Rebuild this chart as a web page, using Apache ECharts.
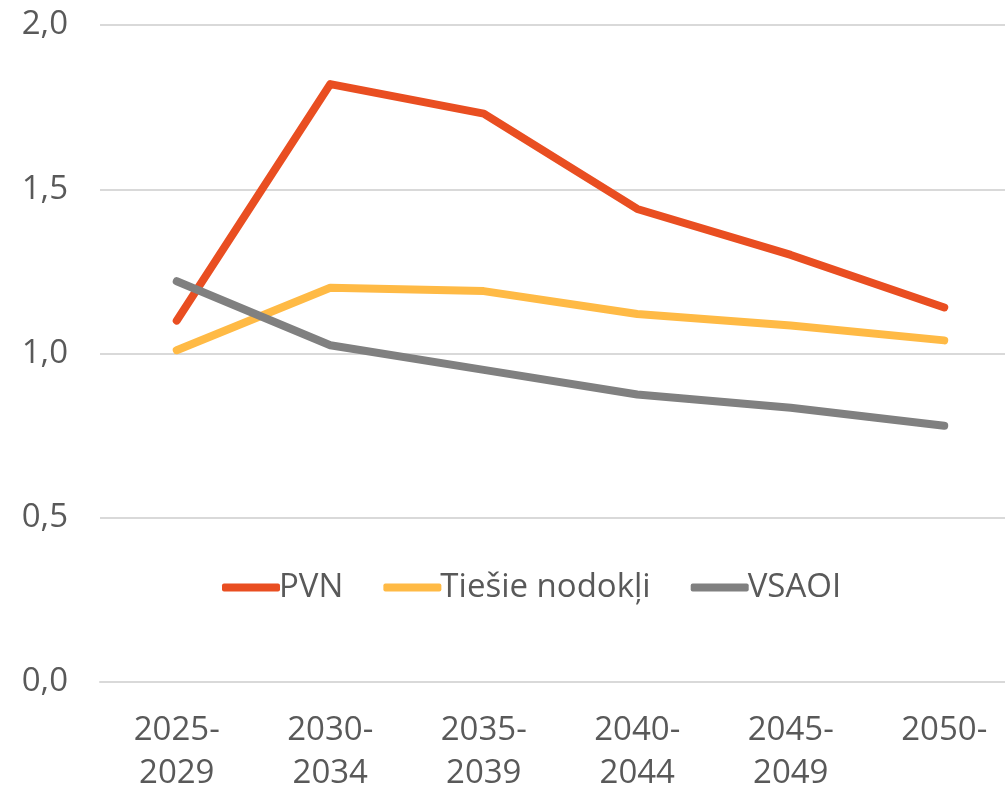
<!DOCTYPE html>
<html>
<head>
<meta charset="utf-8">
<script src="https://cdn.jsdelivr.net/npm/echarts@6/dist/echarts.min.js"></script>
<style>
  html, body { margin: 0; padding: 0; background: #fff; }
  #chart { width: 1005px; height: 791px; }
</style>
</head>
<body>
<div id="chart"></div>
<script>
// periodi
const periods = ['2025-\n2029', '2030-\n2034', '2035-\n2039', '2040-\n2044', '2045-\n2049', '2050-'];
const pvn = [1.10, 1.82, 1.73, 1.44, 1.30, 1.14];
const tiesie = [1.01, 1.20, 1.19, 1.12, 1.085, 1.04];
const vsaoi = [1.22, 1.025, 0.95, 0.875, 0.835, 0.78];

const font = '"Open Sans", "Liberation Sans", sans-serif';

let chart = echarts.init(document.getElementById('chart'));

function mkLine(name, data, color) {
  return {
    name: name,
    type: 'line',
    data: data,
    symbol: 'none',
    lineStyle: { color: color, width: 8, cap: 'round', join: 'round' },
    itemStyle: { color: color }
  };
}

chart.setOption({
  animation: false,
  textStyle: { fontFamily: font },
  // plot area runs past the right edge (the original picture is cropped)
  grid: { left: 100, width: 921, top: 25, height: 657, outerBoundsMode: 'none', containLabel: false },
  legend: {
    top: 566,
    left: 217,
    itemWidth: 58,
    itemHeight: 8,
    itemGap: 40,
    icon: 'roundRect',
    textStyle: { fontSize: 33, color: '#595959', fontFamily: font, padding: [0, 0, 0, -6] },
    data: ['PVN', 'Tiešie nodokļi', 'VSAOI']
  },
  xAxis: {
    type: 'category',
    data: periods,
    boundaryGap: true,
    axisLine: { show: true, lineStyle: { color: '#d9d9d9', width: 2 } },
    axisTick: { show: false },
    axisLabel: { fontSize: 33, color: '#595959', lineHeight: 43, margin: 27, interval: 0 }
  },
  yAxis: {
    type: 'value',
    min: 0,
    max: 2,
    interval: 0.5,
    axisLine: { show: false },
    axisTick: { show: false },
    splitLine: { lineStyle: { color: '#d9d9d9', width: 2 } },
    axisLabel: {
      fontSize: 33,
      color: '#595959',
      margin: 32,
      formatter: v => v.toFixed(1).replace('.', ',')
    }
  },
  series: [
    mkLine('PVN', pvn, '#E94E21'),
    mkLine('Tiešie nodokļi', tiesie, '#FFBA45'),
    mkLine('VSAOI', vsaoi, '#808080')
  ]
});
</script>
</body>
</html>
